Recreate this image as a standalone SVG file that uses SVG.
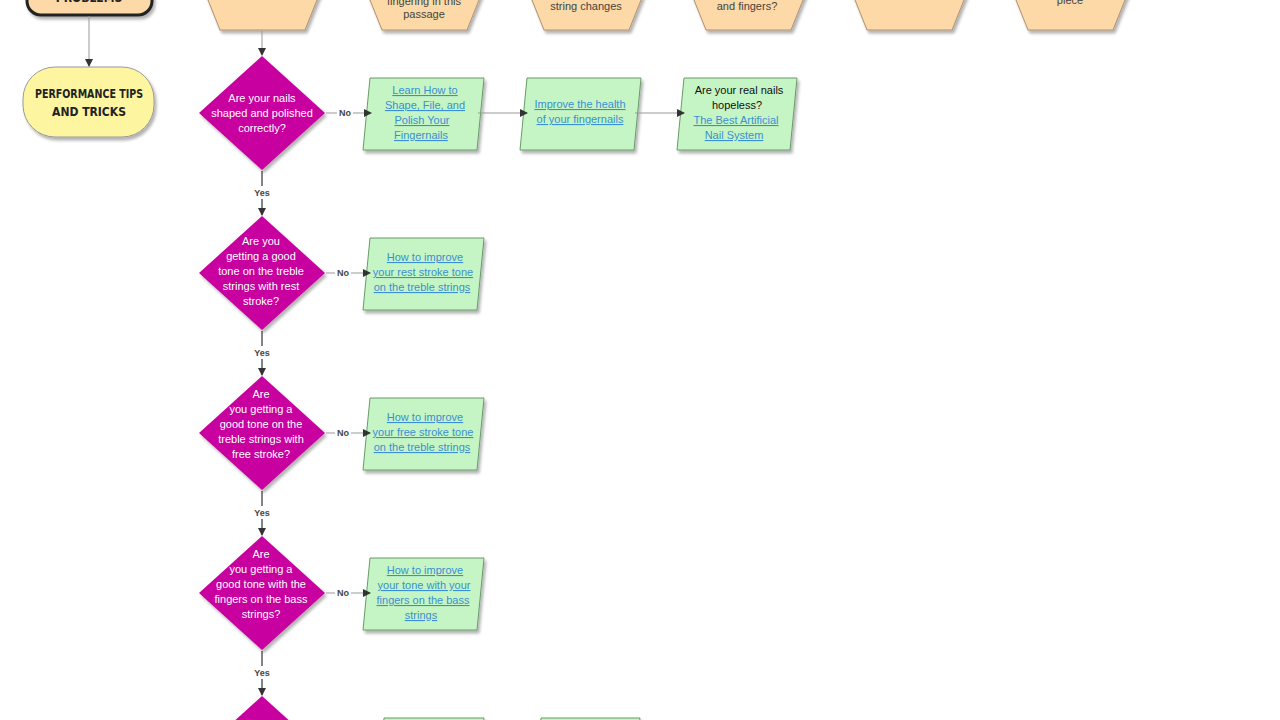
<svg xmlns="http://www.w3.org/2000/svg" width="1280" height="720" viewBox="0 0 1280 720">
<defs>
<marker id="ah" markerWidth="8" markerHeight="8" refX="7" refY="4" orient="auto" markerUnits="userSpaceOnUse"><path d="M0,0 L8,4 L0,8 z" fill="#333"/></marker>
<filter id="sh" x="-10%" y="-10%" width="130%" height="130%"><feDropShadow dx="2" dy="3" stdDeviation="1.5" flood-color="#000" flood-opacity="0.3"/></filter>
</defs>
<style>
.hex{fill:#fcd9a6;stroke:#b09070;stroke-width:1;filter:url(#sh)}
.dia{fill:#c8069f;filter:url(#sh)}
.grn{fill:#c5f5c5;stroke:#6a9a6a;stroke-width:1;filter:url(#sh)}
.ht{font-family:"Liberation Sans",Arial,sans-serif;font-size:11px;fill:#444;text-anchor:middle}
.dt{font-family:"Liberation Sans",Arial,sans-serif;font-size:11px;fill:#fff;text-anchor:middle}
.lk{font-family:"Liberation Sans",Arial,sans-serif;font-size:11px;fill:#3a8fd0;text-anchor:middle;text-decoration:underline}
.bt{font-family:"Liberation Sans",Arial,sans-serif;font-size:11px;fill:#111;text-anchor:middle}
.lb{font-family:"Liberation Sans",Arial,sans-serif;font-size:9px;fill:#444;text-anchor:middle;font-weight:bold}
.ln{stroke:#999;stroke-width:1;fill:none}
.lnd{stroke:#333;stroke-width:1.2;fill:none}
.cm{font-family:"Liberation Sans Narrow","DejaVu Sans Condensed",sans-serif;font-size:12px;font-weight:bold;fill:#222;text-anchor:middle}
</style>
<rect width="1280" height="720" fill="#fff"/>
<g id="problems"><rect x="27" y="-40" width="125" height="55" rx="14" fill="#fcd9a6" stroke="#222" stroke-width="3" filter="url(#sh)"/><text class="cm" x="89" y="2">PROBLEMS</text></g>
<g id="tips"><rect x="23" y="67" width="131" height="70" rx="32" fill="#fdf5a0" stroke="#999" filter="url(#sh)"/><text class="cm" x="89" y="98" textLength="108" lengthAdjust="spacingAndGlyphs">PERFORMANCE TIPS</text><text class="cm" x="89" y="116">AND TRICKS</text></g>
<g id="hex1"><polygon class="hex" points="204,-10 220,30 305,30 321,-10 305,-50 220,-50"/></g>
<g id="hex2"><polygon class="hex" points="366,-10 382,30 467,30 483,-10 467,-50 382,-50"/><text class="ht" x="424" y="5">fingering in this</text><text class="ht" x="424" y="18">passage</text></g>
<g id="hex3"><polygon class="hex" points="528,-10 544,30 629,30 645,-10 629,-50 544,-50"/><text class="ht" x="586" y="10">string changes</text></g>
<g id="hex4"><polygon class="hex" points="690,-10 706,30 791,30 807,-10 791,-50 706,-50"/><text class="ht" x="747" y="10">and fingers?</text></g>
<g id="hex5"><polygon class="hex" points="851,-10 867,30 952,30 968,-10 952,-50 867,-50"/></g>
<g id="hex6"><polygon class="hex" points="1012,-10 1028,30 1113,30 1129,-10 1113,-50 1028,-50"/><text class="ht" x="1070" y="4">piece</text></g>
<g id="d1"><polygon class="dia" points="262,56 325,113 262,170 199,113"/><text class="dt" x="262" y="102">Are your nails</text><text class="dt" x="262" y="117">shaped and polished</text><text class="dt" x="262" y="132">correctly?</text></g>
<g id="d2"><polygon class="dia" points="262,216 325,273 262,330 199,273"/><text class="dt" x="261" y="245">Are you</text><text class="dt" x="261" y="260">getting a good</text><text class="dt" x="261" y="275">tone on the treble</text><text class="dt" x="261" y="290">strings with rest</text><text class="dt" x="261" y="305">stroke?</text></g>
<g id="d3"><polygon class="dia" points="262,376 325,433 262,490 199,433"/><text class="dt" x="261" y="398">Are</text><text class="dt" x="261" y="413">you getting a</text><text class="dt" x="261" y="428">good tone on the</text><text class="dt" x="261" y="443">treble strings with</text><text class="dt" x="261" y="458">free stroke?</text></g>
<g id="d4"><polygon class="dia" points="262,536 325,593 262,650 199,593"/><text class="dt" x="261" y="558">Are</text><text class="dt" x="261" y="573">you getting a</text><text class="dt" x="261" y="588">good tone with the</text><text class="dt" x="261" y="603">fingers on the bass</text><text class="dt" x="261" y="618">strings?</text></g>
<g id="d5"><polygon class="dia" points="262,696 325,753 262,810 199,753"/></g>
<g id="g1"><polygon class="grn" points="370,78 484,78 477,150 363,150"/><text class="lk" x="425" y="94">Learn How to</text><text class="lk" x="425" y="109">Shape, File, and</text><text class="lk" x="422" y="124">Polish Your</text><text class="lk" x="421" y="139">Fingernails</text></g>
<g id="g2"><polygon class="grn" points="527,78 641,78 634,150 520,150"/><text class="lk" x="580" y="108">Improve the health</text><text class="lk" x="580" y="123">of your fingernails</text></g>
<g id="g3"><polygon class="grn" points="684,78 797,78 790,150 677,150"/><text class="bt" x="739" y="94">Are your real nails</text><text class="bt" x="737" y="109">hopeless?</text><text class="lk" x="736" y="124">The Best Artificial</text><text class="lk" x="734" y="139">Nail System</text></g>
<g id="g4"><polygon class="grn" points="370,238 484,238 477,310 363,310"/><text class="lk" x="425" y="261">How to improve</text><text class="lk" x="423" y="276">your rest stroke tone</text><text class="lk" x="422" y="291">on the treble strings</text></g>
<g id="g5"><polygon class="grn" points="370,398 484,398 477,470 363,470"/><text class="lk" x="425" y="421">How to improve</text><text class="lk" x="423" y="436">your free stroke tone</text><text class="lk" x="422" y="451">on the treble strings</text></g>
<g id="g6"><polygon class="grn" points="370,558 484,558 477,630 363,630"/><text class="lk" x="425" y="574">How to improve</text><text class="lk" x="424" y="589">your tone with your</text><text class="lk" x="423" y="604">fingers on the bass</text><text class="lk" x="421" y="619">strings</text></g>
<g id="g7"><polygon class="grn" points="384,718 484,718 477,790 377,790"/></g>
<g id="g8"><polygon class="grn" points="541,718 640,718 633,790 534,790"/></g>
<g id="connectors">
<line class="ln" x1="89" y1="16" x2="89" y2="66" marker-end="url(#ah)"/>
<line class="ln" x1="262" y1="31" x2="262" y2="55" marker-end="url(#ah)"/>
<line class="ln" x1="326" y1="113" x2="337" y2="113"/><line class="ln" x1="353" y1="113" x2="371" y2="113" marker-end="url(#ah)"/>
<line class="ln" x1="478" y1="113" x2="527" y2="113" marker-end="url(#ah)"/>
<line class="ln" x1="635" y1="113" x2="684" y2="113" marker-end="url(#ah)"/>
<line class="ln" x1="326" y1="273" x2="335" y2="273"/><line class="ln" x1="351" y1="273" x2="370" y2="273" marker-end="url(#ah)"/>
<line class="ln" x1="326" y1="433" x2="335" y2="433"/><line class="ln" x1="351" y1="433" x2="370" y2="433" marker-end="url(#ah)"/>
<line class="ln" x1="326" y1="593" x2="335" y2="593"/><line class="ln" x1="351" y1="593" x2="370" y2="593" marker-end="url(#ah)"/>
<line class="lnd" x1="262" y1="171" x2="262" y2="186"/><line class="lnd" x1="262" y1="199" x2="262" y2="215" marker-end="url(#ah)"/>
<line class="lnd" x1="262" y1="331" x2="262" y2="346"/><line class="lnd" x1="262" y1="359" x2="262" y2="375" marker-end="url(#ah)"/>
<line class="lnd" x1="262" y1="491" x2="262" y2="506"/><line class="lnd" x1="262" y1="519" x2="262" y2="535" marker-end="url(#ah)"/>
<line class="lnd" x1="262" y1="651" x2="262" y2="666"/><line class="lnd" x1="262" y1="679" x2="262" y2="695" marker-end="url(#ah)"/>
<text class="lb" x="345" y="116">No</text><text class="lb" x="343" y="276">No</text><text class="lb" x="343" y="436">No</text><text class="lb" x="343" y="596">No</text>
<text class="lb" x="262" y="196">Yes</text><text class="lb" x="262" y="356">Yes</text><text class="lb" x="262" y="516">Yes</text><text class="lb" x="262" y="676">Yes</text>
</g>
</svg>
